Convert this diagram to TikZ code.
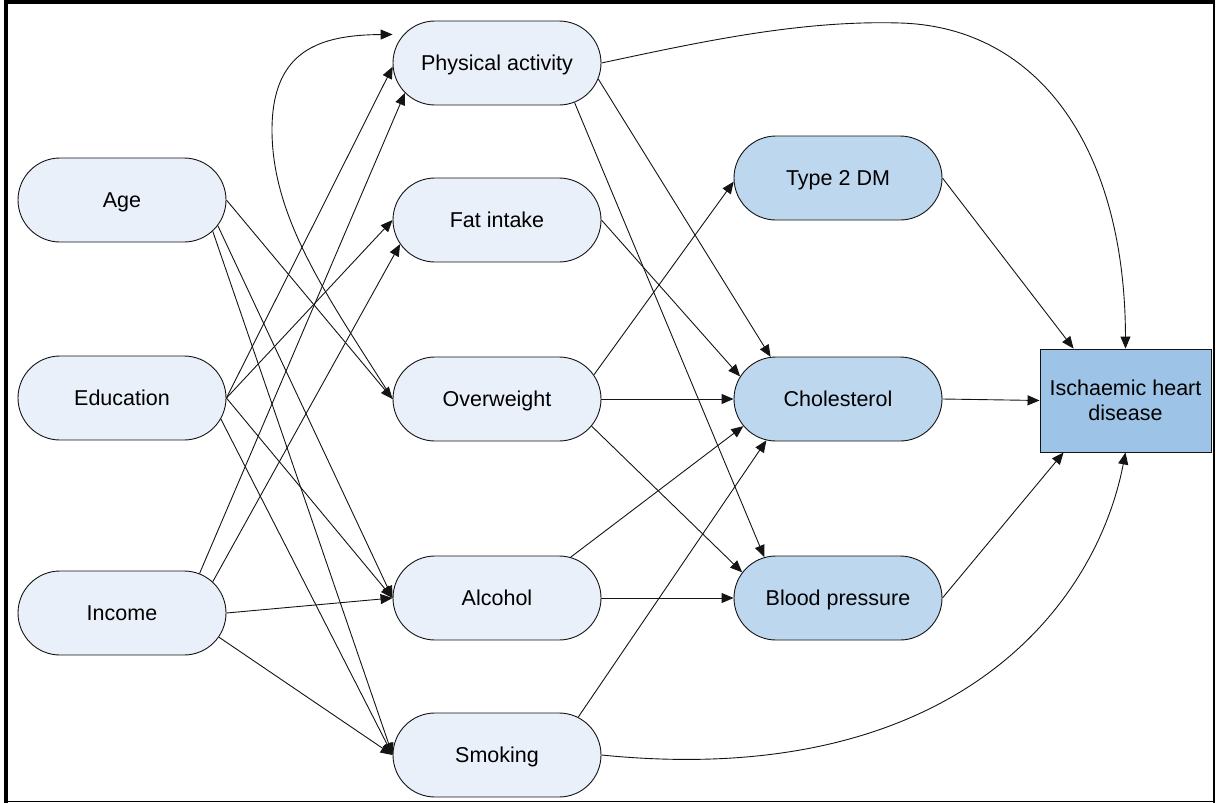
\documentclass[tikz,border=0pt]{standalone}
\usepackage{fontspec}
\setmainfont{Liberation Sans}
\usetikzlibrary{shapes.misc,arrows.meta,calc}

\definecolor{lightfill}{RGB}{233,240,249}
\definecolor{midfill}{RGB}{189,215,238}
\definecolor{darkfill}{RGB}{157,195,230}
\definecolor{inkline}{RGB}{20,20,20}

% zero-width label box so the pill keeps its fixed size
\newcommand{\pilltext}[1]{\makebox[0pt]{#1}}

\tikzset{
  pill/.style={shape=rounded rectangle, draw=inkline, line width=0.9pt,
    minimum width=208pt, minimum height=84pt, inner sep=0pt,
    text height=20pt, text depth=4.6pt,
    font=\fontsize{21.5}{25}\selectfont},
  factor/.style={pill, fill=lightfill},
  riskbox/.style={pill, fill=midfill},
  outcome/.style={rectangle, draw=inkline, line width=0.9pt, fill=darkfill,
    minimum width=171pt, minimum height=103pt, inner sep=0pt, align=center,
    font=\fontsize{21.5}{25}\selectfont},
  arr/.style={draw=inkline, line width=0.9pt, -{Triangle[length=12pt,width=10pt]}}
}

\begin{document}
\begin{tikzpicture}[x=1pt,y=-1pt]
\useasboundingbox (0,0) rectangle (1216,803);

% frame
\fill[black] (4,0) rectangle (8,803);
\fill[black] (4,0) rectangle (1215,4);
\draw[black, line width=2pt] (1214,0) -- (1214,803);
\draw[black, line width=1.5pt] (4,801.5) -- (1215,801.5);

% background factors
\node[factor] (age) at (122,200) {\pilltext{Age}};
\node[factor] (edu) at (122,398) {\pilltext{Education}};
\node[factor] (inc) at (122,613) {\pilltext{Income}};

% lifestyle factors
\node[factor] (pa)  at (497,63)  {\pilltext{Physical activity}};
\node[factor] (fat) at (497,220) {\pilltext{Fat intake}};
\node[factor] (ow)  at (497,399) {\pilltext{Overweight}};
\node[factor] (alc) at (497,598) {\pilltext{Alcohol}};
\node[factor] (smk) at (497,755) {\pilltext{Smoking}};

% intermediate risk factors
\node[riskbox] (t2)   at (838,178) {\pilltext{Type 2 DM}};
\node[riskbox] (chol) at (838,399) {\pilltext{Cholesterol}};
\node[riskbox] (bp)   at (838,598) {\pilltext{Blood pressure}};

% outcome
\node[outcome] (ihd) at (1125.5,400.5) {Ischaemic heart\\disease};

% age, education, income
\draw[arr] (age.east) -- (ow.west);
\draw[arr] (age.-15) -- (alc.west);
\draw[arr] (age.-19.4) -- (smk.west);
\draw[arr] (edu.east) -- (pa.182);
\draw[arr] (edu.east) -- (fat.west);
\draw[arr] (edu.east) -- (alc.west);
\draw[arr] (edu.-12.4) -- (smk.west);
\draw[arr] (inc.27) -- (pa.198);
\draw[arr] (inc.19) -- (fat.194.5);
\draw[arr] (inc.east) -- (alc.west);
\draw[arr] (inc.-14) -- (smk.west);

% overweight loops back to physical activity
\draw[arr] (ow.west) .. controls (330,300) and (272,220) .. (272,130)
  .. controls (272,50) and (320,35) .. ($(pa.163)+(-11,0)$);

% lifestyle to risk factors
\draw[arr] (pa.-9.5) -- (chol.148.3);
\draw[arr] (pa.-27.5) -- (bp.151.3);
\draw[arr] (fat.east) -- (chol.167.7);
\draw[arr] (ow.14) -- (t2.182);
\draw[arr] (ow.east) -- (chol.west);
\draw[arr] (ow.-16.8) -- (bp.165.1);
\draw[arr] (alc.29.3) -- (chol.196);
\draw[arr] (alc.east) -- (bp.west);
\draw[arr] (smk.25.1) -- (chol.210.5);

% direct paths to the outcome
\draw[arr] (pa.east) .. controls (700,42) and (800,20) .. (900,23)
  .. controls (1040,27) and (1125,150) .. (ihd.north);
\draw[arr] (smk.east) .. controls (950,790) and (1095,610) .. (ihd.south);
\draw[arr] (t2.east) -- (ihd.135.5);
\draw[arr] (chol.east) -- (ihd.west);
\draw[arr] (bp.east) -- (ihd.220.4);
\end{tikzpicture}
\end{document}
